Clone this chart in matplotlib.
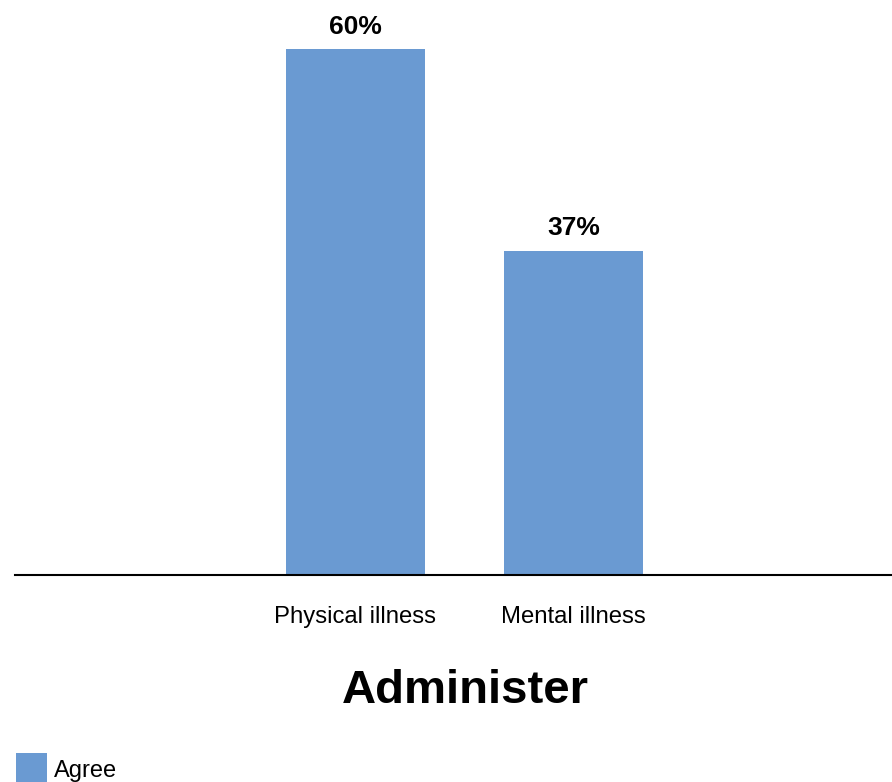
import matplotlib
matplotlib.use("Agg")
import matplotlib.pyplot as plt

plt.rcParams['font.family'] = ['Liberation Sans', 'DejaVu Sans']

categories = ["Physical illness", "Mental illness"]
agree = [60, 37]
value_labels = ["60%", "37%"]
series_name = "Agree"
title = "Administer"

W, H = 892, 782
fig = plt.figure(figsize=(W / 100, H / 100), dpi=100)

# axes: bottom edge sits on the baseline, spanning almost the full width
ax = fig.add_axes([15 / W, 1 - 575 / H, (W - 15) / W, 575 / H])

x = list(range(len(categories)))
px_per_unit = 218.0
ax.set_xlim(-(355.5 - 15) / px_per_unit, (W - 355.5) / px_per_unit)
ax.set_ylim(0, 575 / 8.767)

bars = ax.bar(x, agree, width=139 / px_per_unit, color='#6a9ad2', label=series_name)

for b, lab in zip(bars, value_labels):
    ax.annotate(lab, (b.get_x() + b.get_width() / 2, b.get_height()),
                xytext=(0, 11), textcoords='offset points',
                ha='center', va='baseline', fontsize=19, fontweight='bold')

for s in ['top', 'right', 'left']:
    ax.spines[s].set_visible(False)
ax.spines['bottom'].set_linewidth(1.5)
ax.spines['bottom'].set_color('black')
ax.set_yticks([])
ax.set_xticks(x)
ax.set_xticklabels(categories, fontsize=17.2)
ax.tick_params(axis='x', length=0, pad=22.5)

fig.text(465 / W, 1 - 703 / H, title, ha='center', va='baseline',
         fontsize=34, fontweight='bold')

fig.legend(handles=[bars], labels=[series_name], loc='upper left',
           bbox_to_anchor=(16 / W, 1 - 753 / H), frameon=False,
           fontsize=17, handlelength=1.31, handleheight=1.75,
           handletextpad=0.3, borderpad=0, borderaxespad=0)

fig.savefig('out.png', dpi=100)
